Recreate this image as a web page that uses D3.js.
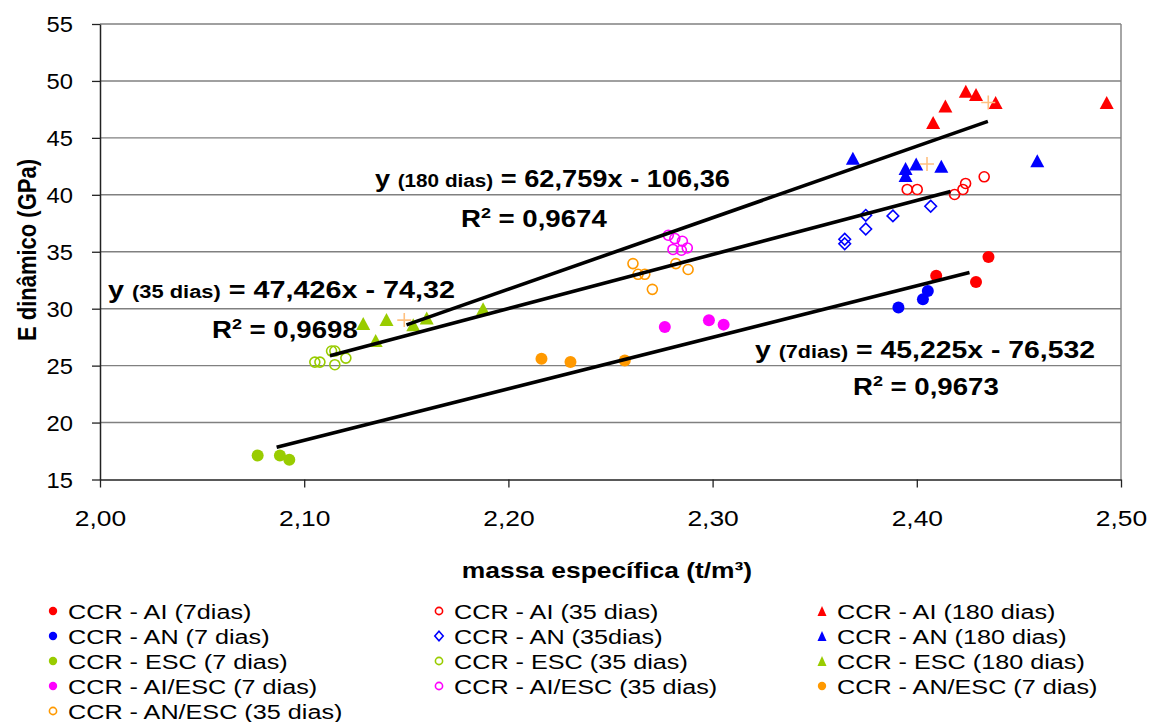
<!DOCTYPE html>
<html>
<head>
<meta charset="utf-8">
<script src="https://cdn.jsdelivr.net/npm/d3@7"></script>
<style>
  html, body { margin: 0; padding: 0; background: #ffffff; }
  svg { display: block; }
  text { font-family: "Liberation Sans", Arial, sans-serif; fill: #000; }
</style>
</head>
<body>
<svg id="chart" width="1152" height="722"></svg>
<script>
// ---- axis ticks ----
const xTicks = [2.00, 2.10, 2.20, 2.30, 2.40, 2.50];
const yTicks = [15, 20, 25, 30, 35, 40, 45, 50, 55];

// ---- measured points: specific mass (t/m³) and dynamic modulus (GPa) ----
const ai7X = [2.4095, 2.4290, 2.4351];
const ai7Y = [32.90, 32.35, 34.54];
const an7X = [2.3910, 2.4030, 2.4054];
const an7Y = [30.10, 30.82, 31.55];
const esc7X = [2.0772, 2.0881, 2.0927];
const esc7Y = [17.11, 17.11, 16.73];
const aiEsc7X = [2.2766, 2.2982, 2.3054];
const aiEsc7Y = [28.39, 28.98, 28.60];
const anEsc7X = [2.2162, 2.2304, 2.2570];
const anEsc7Y = [25.60, 25.31, 25.46];

const ai35X = [2.3953, 2.4002, 2.4185, 2.4226, 2.4239, 2.4330];
const ai35Y = [40.47, 40.47, 40.03, 40.47, 41.00, 41.58];
const an35X = [2.3647, 2.3647, 2.3750, 2.3750, 2.3883, 2.4068];
const an35Y = [36.10, 35.70, 38.20, 37.00, 38.15, 39.00];
const esc35X = [2.1052, 2.1077, 2.1134, 2.1150, 2.1150, 2.1204];
const esc35Y = [25.31, 25.31, 26.28, 26.28, 25.08, 25.66];
const aiEsc35X = [2.2783, 2.2815, 2.2852, 2.2806, 2.2847, 2.2876];
const aiEsc35Y = [36.45, 36.16, 35.92, 35.20, 35.13, 35.33];
const anEsc35X = [2.2610, 2.2635, 2.2668, 2.2705, 2.2820, 2.2880];
const anEsc35Y = [33.96, 33.02, 33.02, 31.70, 33.96, 33.44];

const ai180X = [2.4080, 2.4140, 2.4240, 2.4290, 2.4386, 2.4930];
const ai180Y = [46.35, 47.80, 49.10, 48.80, 48.10, 48.10];
const an180X = [2.3687, 2.3945, 2.3945, 2.3997, 2.4120, 2.4590];
const an180Y = [43.20, 42.30, 41.70, 42.70, 42.50, 43.00];
const esc180X = [2.1289, 2.1403, 2.1350, 2.1534, 2.1600, 2.1876];
const esc180Y = [28.69, 29.04, 27.20, 28.60, 29.18, 30.00];
const anEsc180X = [2.1490, 2.4050, 2.4350];
const anEsc180Y = [29.00, 42.70, 48.10];

// ---- linear fits by age ----
const fitAges = ["7dias", "35 dias", "180 dias"];
const fitSlopes = [45.225, 47.426, 62.759];
const fitIntercepts = [-76.532, -74.32, -106.36];
const fitR2 = [0.9673, 0.9698, 0.9674];
const fitXStart = [2.0865, 2.1126, 2.1501];
const fitXEnd = [2.4258, 2.4165, 2.4348];

// ---- series definitions (legend order) ----
const series = [
  { name: "CCR - AI (7dias)",       xs: ai7X,     ys: ai7Y,     color: "#FF0000", shape: "dot" },
  { name: "CCR - AI (35 dias)",     xs: ai35X,    ys: ai35Y,    color: "#FF0000", shape: "ring" },
  { name: "CCR - AI (180 dias)",    xs: ai180X,   ys: ai180Y,   color: "#FF0000", shape: "tri" },
  { name: "CCR - AN (7 dias)",      xs: an7X,     ys: an7Y,     color: "#0000FF", shape: "dot" },
  { name: "CCR - AN (35dias)",      xs: an35X,    ys: an35Y,    color: "#0000FF", shape: "diamond" },
  { name: "CCR - AN (180 dias)",    xs: an180X,   ys: an180Y,   color: "#0000FF", shape: "tri" },
  { name: "CCR - ESC (7 dias)",     xs: esc7X,    ys: esc7Y,    color: "#99CC00", shape: "dot" },
  { name: "CCR - ESC (35 dias)",    xs: esc35X,   ys: esc35Y,   color: "#99CC00", shape: "ring" },
  { name: "CCR - ESC (180 dias)",   xs: esc180X,  ys: esc180Y,  color: "#99CC00", shape: "tri" },
  { name: "CCR - AI/ESC (7 dias)",  xs: aiEsc7X,  ys: aiEsc7Y,  color: "#FF00FF", shape: "dot" },
  { name: "CCR - AI/ESC (35 dias)", xs: aiEsc35X, ys: aiEsc35Y, color: "#FF00FF", shape: "ring" },
  { name: "CCR - AN/ESC (7 dias)",  xs: anEsc7X,  ys: anEsc7Y,  color: "#FF9900", shape: "dot" },
  { name: "CCR - AN/ESC (35 dias)", xs: anEsc35X, ys: anEsc35Y, color: "#FF9900", shape: "ring" },
  { name: null,                     xs: anEsc180X, ys: anEsc180Y, color: "#FFC080", shape: "plus" }
];

// ---- layout ----
const plot = { left: 100, right: 1121, top: 24, bottom: 479.5 };
const SX = 1.2;            // horizontal widening of the chart lettering
const FONT_TICK = 22;

const svg = d3.select("#chart");
const x = d3.scaleLinear().domain([2.0, 2.5]).range([plot.left, plot.right]);
const y = d3.scaleLinear().domain([15, 55]).range([plot.bottom, plot.top]);
const comma = v => String(v).replace(".", ",");

// gridlines
svg.append("g").selectAll("line")
  .data(yTicks.filter(t => t > 15))
  .join("line")
  .attr("x1", plot.left).attr("x2", plot.right)
  .attr("y1", d => y(d)).attr("y2", d => y(d))
  .attr("stroke", "#808080").attr("stroke-width", 1.4);

svg.append("line")
  .attr("x1", plot.right).attr("x2", plot.right)
  .attr("y1", plot.top).attr("y2", plot.bottom)
  .attr("stroke", "#808080").attr("stroke-width", 1.4);

// y axis
const gy = svg.append("g").attr("transform", `translate(${plot.left},0)`)
  .call(d3.axisLeft(y).tickValues(yTicks).tickSize(8).tickSizeOuter(0).tickFormat(d3.format("d")));
gy.select(".domain").attr("stroke", "#222").attr("stroke-width", 1.5);
gy.selectAll(".tick line").attr("stroke", "#222").attr("stroke-width", 1.3);
gy.selectAll(".tick text")
  .attr("x", null).attr("dy", "0.35em")
  .attr("transform", "translate(-27,0) scale(1.08,1)")
  .attr("font-size", FONT_TICK).attr("font-family", "Liberation Sans, Arial, sans-serif")
  .attr("fill", "#000");

// x axis
const gx = svg.append("g").attr("transform", `translate(0,${plot.bottom})`)
  .call(d3.axisBottom(x).tickValues(xTicks).tickSize(8).tickSizeOuter(0)
    .tickFormat(d => d.toFixed(2).replace(".", ",")));
gx.select(".domain").attr("stroke", "#222").attr("stroke-width", 1.5);
gx.selectAll(".tick line").attr("stroke", "#222").attr("stroke-width", 1.3);
gx.selectAll(".tick text")
  .attr("y", null).attr("dy", null)
  .attr("transform", `translate(0,46) scale(${SX},1)`)
  .attr("font-size", FONT_TICK).attr("font-family", "Liberation Sans, Arial, sans-serif")
  .attr("fill", "#000");

// axis titles
svg.append("text")
  .attr("transform", `translate(607,578) scale(${SX},1)`)
  .attr("text-anchor", "middle").attr("font-size", 22).attr("font-weight", "bold")
  .text("massa específica (t/m³)");

svg.append("text")
  .attr("transform", `translate(36,250) rotate(-90) scale(1,${SX})`)
  .attr("text-anchor", "middle").attr("font-size", 22).attr("font-weight", "bold")
  .text("E dinâmico (GPa)");

// marker drawing
function triPath(w, h) {
  return `M0,${-h / 2}L${w / 2},${h / 2}L${-w / 2},${h / 2}Z`;
}
function drawMarker(g, shape, color) {
  if (shape === "dot") {
    g.append("circle").attr("r", 6).attr("fill", color);
  } else if (shape === "ring") {
    g.append("circle").attr("r", 5).attr("fill", "none")
      .attr("stroke", color).attr("stroke-width", 1.6);
  } else if (shape === "diamond") {
    const s = 5.8;
    g.append("path").attr("d", `M0,${-s}L${s},0L0,${s}L${-s},0Z`)
      .attr("fill", "none").attr("stroke", color).attr("stroke-width", 1.6);
  } else if (shape === "tri") {
    g.append("path").attr("d", triPath(14, 13)).attr("fill", color);
  } else if (shape === "plus") {
    const s = 7;
    g.append("path").attr("d", `M${-s},0H${s}M0,${-s}V${s}`)
      .attr("stroke", color).attr("stroke-width", 1.6).attr("fill", "none");
  }
}

// points
const gPts = svg.append("g");
series.forEach(s => {
  const pts = s.xs.map((v, i) => [v, s.ys[i]]);
  gPts.append("g").selectAll("g")
    .data(pts)
    .join("g")
    .attr("transform", d => `translate(${x(d[0])},${y(d[1])})`)
    .each(function () { drawMarker(d3.select(this), s.shape, s.color); });
});

// fitted lines
const gFit = svg.append("g");
fitSlopes.forEach((m, i) => {
  const b = fitIntercepts[i];
  const x0 = fitXStart[i], x1 = fitXEnd[i];
  gFit.append("line")
    .attr("x1", x(x0)).attr("y1", y(m * x0 + b))
    .attr("x2", x(x1)).attr("y2", y(m * x1 + b))
    .attr("stroke", "#000").attr("stroke-width", 3.6);
});

// equation labels
const eqPos = [ [755, 358], [108, 298], [375, 187] ];
const eqWidth = [340, 347, 355];
const r2Pos = [ [853, 395], [212, 338], [461, 227] ];
const gEq = svg.append("g").attr("font-weight", "bold");
fitSlopes.forEach((m, i) => {
  const b = fitIntercepts[i];
  const t = gEq.append("text")
    .attr("transform", `translate(${eqPos[i][0]},${eqPos[i][1]})`)
    .attr("font-size", 23)
    .attr("textLength", eqWidth[i]).attr("lengthAdjust", "spacingAndGlyphs");
  t.append("tspan").text("y ");
  t.append("tspan").attr("font-size", 17.5).text(`(${fitAges[i]})`);
  t.append("tspan").text(` = ${comma(m)}x ${b < 0 ? "-" : "+"} ${comma(Math.abs(b))}`);

  const r = gEq.append("text")
    .attr("transform", `translate(${r2Pos[i][0]},${r2Pos[i][1]}) scale(${SX},1)`)
    .attr("font-size", 23);
  r.append("tspan").text("R");
  r.append("tspan").attr("font-size", 15).attr("dy", -9).text("2");
  r.append("tspan").attr("dy", 9).text(` = ${comma(fitR2[i])}`);
});

// legend: three columns, row-major
const legendCols = [53, 439, 822];
const legendRow0 = 611, legendRowStep = 25;
const gLeg = svg.append("g");
series.filter(s => s.name).forEach((s, i) => {
  const cx = legendCols[i % 3];
  const cy = legendRow0 + Math.floor(i / 3) * legendRowStep;
  const g = gLeg.append("g").attr("transform", `translate(${cx},${cy})`);
  const mk = g.append("g");
  if (s.shape === "tri") mk.append("path").attr("d", triPath(9, 10)).attr("fill", s.color);
  else if (s.shape === "dot") mk.append("circle").attr("r", 4.2).attr("fill", s.color);
  else if (s.shape === "ring") mk.append("circle").attr("r", 3.6).attr("fill", "none").attr("stroke", s.color).attr("stroke-width", 1.6);
  else if (s.shape === "diamond") mk.append("path").attr("d", "M0,-4.8L4.2,0L0,4.8L-4.2,0Z").attr("fill", "none").attr("stroke", s.color).attr("stroke-width", 1.6);
  g.append("text")
    .attr("transform", `translate(15,7.5) scale(${SX},1)`)
    .attr("font-size", 21)
    .text(s.name);
});
</script>
</body>
</html>
